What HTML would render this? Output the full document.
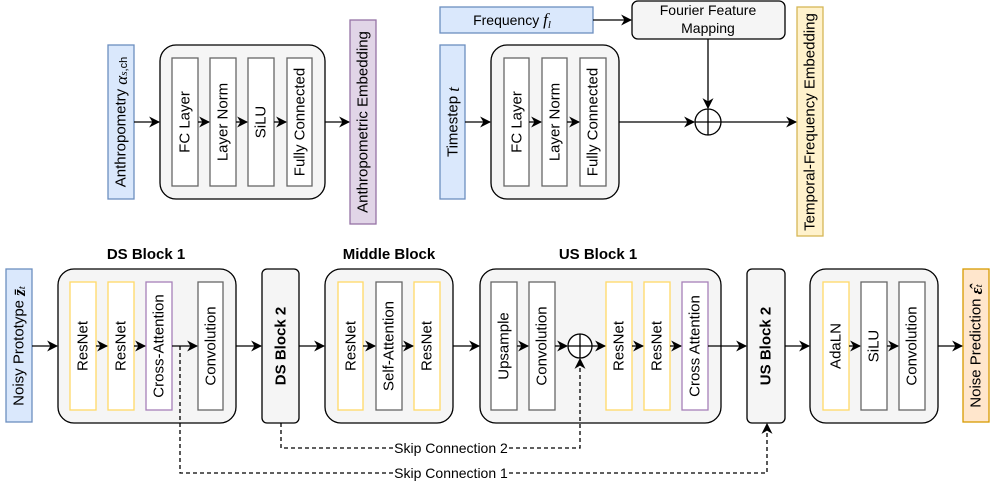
<!DOCTYPE html>
<html><head><meta charset="utf-8"><style>
html,body{margin:0;padding:0;background:#fff;}
svg{display:block;font-family:"Liberation Sans",sans-serif;}
.v{font-size:15px;text-anchor:middle;dominant-baseline:central;}
.b{font-size:15px;font-weight:bold;text-anchor:middle;}
.m{font-family:"Liberation Serif",serif;font-style:italic;}
</style></head><body>
<svg width="996" height="486" viewBox="0 0 996 486" xmlns="http://www.w3.org/2000/svg">
<defs>
<marker id="a" viewBox="0 0 10 10" refX="9" refY="5" markerWidth="11" markerHeight="11" orient="auto" markerUnits="userSpaceOnUse">
<path d="M0,0 L10,5 L0,10 L3,5 Z" fill="#000"/>
</marker>
</defs>
<g fill="none" stroke="#000" stroke-width="1.3">
<rect x="108" y="45" width="26" height="154" fill="#dae8fc" stroke="#6c8ebf"/>
<rect x="160" y="45" width="165" height="154" rx="16" fill="#f5f5f5"/>
<rect x="172" y="58" width="26" height="128" fill="#fff" stroke="#666"/>
<rect x="210" y="58" width="26" height="128" fill="#fff" stroke="#666"/>
<rect x="248" y="58" width="26" height="128" fill="#fff" stroke="#666"/>
<rect x="287" y="58" width="25" height="128" fill="#fff" stroke="#666"/>
<rect x="350" y="20" width="26" height="204" fill="#e1d5e7" stroke="#9673a6"/>
<line x1="134" y1="122" x2="159" y2="122" marker-end="url(#a)"/>
<line x1="198" y1="122" x2="209" y2="122" marker-end="url(#a)"/>
<line x1="236" y1="122" x2="247" y2="122" marker-end="url(#a)"/>
<line x1="274" y1="122" x2="286" y2="122" marker-end="url(#a)"/>
<line x1="325" y1="122" x2="349" y2="122" marker-end="url(#a)"/>
<rect x="440" y="7" width="153" height="26" fill="#dae8fc" stroke="#6c8ebf"/>
<rect x="632" y="1" width="153" height="38" rx="6" fill="#f5f5f5"/>
<rect x="440" y="45" width="25" height="154" fill="#dae8fc" stroke="#6c8ebf"/>
<rect x="491" y="45" width="128" height="154" rx="16" fill="#f5f5f5"/>
<rect x="504" y="58" width="25" height="128" fill="#fff" stroke="#666"/>
<rect x="542" y="58" width="25" height="128" fill="#fff" stroke="#666"/>
<rect x="580" y="58" width="26" height="128" fill="#fff" stroke="#666"/>
<rect x="797" y="7" width="26" height="229" fill="#fff2cc" stroke="#d6b656"/>
<line x1="593" y1="20" x2="631" y2="20" marker-end="url(#a)"/>
<line x1="708" y1="39" x2="708" y2="108" marker-end="url(#a)"/>
<line x1="465" y1="122" x2="490" y2="122" marker-end="url(#a)"/>
<line x1="529" y1="122" x2="541" y2="122" marker-end="url(#a)"/>
<line x1="567" y1="122" x2="579" y2="122" marker-end="url(#a)"/>
<line x1="619" y1="122" x2="694" y2="122" marker-end="url(#a)"/>
<circle cx="708" cy="122" r="13" fill="#fff"/>
<line x1="695" y1="122" x2="721" y2="122"/><line x1="708" y1="109" x2="708" y2="135"/>
<line x1="721" y1="122" x2="796" y2="122" marker-end="url(#a)"/>
<rect x="6" y="269" width="26" height="153" fill="#dae8fc" stroke="#6c8ebf"/>
<rect x="58" y="269" width="178" height="154" rx="16" fill="#f5f5f5"/>
<rect x="70" y="282" width="26" height="128" fill="#fff" stroke="#ffd966"/>
<rect x="108" y="282" width="26" height="128" fill="#fff" stroke="#ffd966"/>
<rect x="146" y="282" width="26" height="128" fill="#fff" stroke="#a680b8"/>
<rect x="198" y="282" width="25" height="128" fill="#fff" stroke="#666"/>
<rect x="262" y="269" width="37" height="154" rx="5" fill="#f5f5f5"/>
<rect x="325" y="269" width="128" height="154" rx="16" fill="#f5f5f5"/>
<rect x="338" y="282" width="25" height="128" fill="#fff" stroke="#ffd966"/>
<rect x="376" y="282" width="26" height="128" fill="#fff" stroke="#666"/>
<rect x="414" y="282" width="26" height="128" fill="#fff" stroke="#ffd966"/>
<rect x="480" y="269" width="241" height="154" rx="16" fill="#f5f5f5"/>
<rect x="491" y="282" width="26" height="128" fill="#fff" stroke="#666"/>
<rect x="529" y="282" width="26" height="128" fill="#fff" stroke="#666"/>
<rect x="606" y="282" width="26" height="128" fill="#fff" stroke="#ffd966"/>
<rect x="644" y="282" width="26" height="128" fill="#fff" stroke="#ffd966"/>
<rect x="682" y="282" width="26" height="128" fill="#fff" stroke="#a680b8"/>
<rect x="747" y="269" width="38" height="154" rx="5" fill="#f5f5f5"/>
<rect x="810" y="269" width="128" height="154" rx="16" fill="#f5f5f5"/>
<rect x="823" y="282" width="26" height="128" fill="#fff" stroke="#ffd966"/>
<rect x="861" y="282" width="26" height="128" fill="#fff" stroke="#666"/>
<rect x="899" y="282" width="26" height="128" fill="#fff" stroke="#666"/>
<rect x="963" y="269" width="26" height="153" fill="#ffe6cc" stroke="#d79b00"/>
<line x1="32" y1="346" x2="57" y2="346" marker-end="url(#a)"/>
<line x1="96" y1="346" x2="107" y2="346" marker-end="url(#a)"/>
<line x1="134" y1="346" x2="145" y2="346" marker-end="url(#a)"/>
<line x1="172" y1="346" x2="197" y2="346" marker-end="url(#a)"/>
<line x1="236" y1="346" x2="261" y2="346" marker-end="url(#a)"/>
<line x1="299" y1="346" x2="324" y2="346" marker-end="url(#a)"/>
<line x1="363" y1="346" x2="375" y2="346" marker-end="url(#a)"/>
<line x1="402" y1="346" x2="413" y2="346" marker-end="url(#a)"/>
<line x1="453" y1="346" x2="479" y2="346" marker-end="url(#a)"/>
<line x1="517" y1="346" x2="528" y2="346" marker-end="url(#a)"/>
<line x1="555" y1="346" x2="567" y2="346" marker-end="url(#a)"/>
<circle cx="580" cy="346" r="12" fill="#fff"/>
<line x1="568" y1="346" x2="592" y2="346"/><line x1="580" y1="334" x2="580" y2="358"/>
<line x1="592" y1="346" x2="605" y2="346" marker-end="url(#a)"/>
<line x1="632" y1="346" x2="643" y2="346" marker-end="url(#a)"/>
<line x1="670" y1="346" x2="681" y2="346" marker-end="url(#a)"/>
<line x1="708" y1="346" x2="746" y2="346" marker-end="url(#a)"/>
<line x1="785" y1="346" x2="809" y2="346" marker-end="url(#a)"/>
<line x1="849" y1="346" x2="860" y2="346" marker-end="url(#a)"/>
<line x1="887" y1="346" x2="898" y2="346" marker-end="url(#a)"/>
<line x1="938" y1="346" x2="962" y2="346" marker-end="url(#a)"/>
<g stroke-dasharray="4,3">
<polyline points="281,423 281,448 394,448"/>
<polyline points="509,448 580,448 580,359" marker-end="url(#a)"/>
<polyline points="180,346 180,473 394,473"/>
<polyline points="509,473 767,473 767,424" marker-end="url(#a)"/>
</g>
</g>
<g fill="#000">
<text class="v" transform="translate(121,122) rotate(-90)">Anthropometry <tspan class="m" font-size="17">α</tspan><tspan class="m" font-size="11" dy="3">s</tspan><tspan font-size="11">,ch</tspan></text>
<text class="v" transform="translate(185,122) rotate(-90)">FC Layer</text>
<text class="v" transform="translate(223,122) rotate(-90)">Layer Norm</text>
<text class="v" transform="translate(261,122) rotate(-90)">SiLU</text>
<text class="v" transform="translate(300,122) rotate(-90)">Fully Connected</text>
<text class="v" transform="translate(363,122) rotate(-90)">Anthropometric Embedding</text>
<text x="512" y="25" font-size="14" text-anchor="middle">Frequency <tspan class="m" font-size="17">f</tspan><tspan class="m" font-size="11" dy="3">l</tspan></text>
<text x="708" y="15" font-size="14" text-anchor="middle">Fourier Feature</text>
<text x="708" y="33" font-size="14" text-anchor="middle">Mapping</text>
<text class="v" transform="translate(453,122) rotate(-90)">Timestep <tspan class="m" font-size="17">t</tspan></text>
<text class="v" transform="translate(517,122) rotate(-90)">FC Layer</text>
<text class="v" transform="translate(555,122) rotate(-90)">Layer Norm</text>
<text class="v" transform="translate(593,122) rotate(-90)">Fully Connected</text>
<text class="v" transform="translate(810,122) rotate(-90)">Temporal-Frequency Embedding</text>
<text class="b" x="146" y="259">DS Block 1</text>
<text class="b" x="389" y="259">Middle Block</text>
<text class="b" x="598" y="259">US Block 1</text>
<text class="v" transform="translate(19,346) rotate(-90)">Noisy Prototype <tspan class="m" font-weight="bold" font-size="17">z̄</tspan><tspan class="m" font-size="11" dy="3">t</tspan></text>
<text class="v" transform="translate(83,346) rotate(-90)">ResNet</text>
<text class="v" transform="translate(121,346) rotate(-90)">ResNet</text>
<text class="v" transform="translate(159,346) rotate(-90)">Cross-Attention</text>
<text class="v" transform="translate(211,346) rotate(-90)">Convolution</text>
<text class="v" font-weight="bold" transform="translate(281,346) rotate(-90)">DS Block 2</text>
<text class="v" transform="translate(351,346) rotate(-90)">ResNet</text>
<text class="v" transform="translate(389,346) rotate(-90)">Self-Attention</text>
<text class="v" transform="translate(427,346) rotate(-90)">ResNet</text>
<text class="v" transform="translate(504,346) rotate(-90)">Upsample</text>
<text class="v" transform="translate(542,346) rotate(-90)">Convolution</text>
<text class="v" transform="translate(619,346) rotate(-90)">ResNet</text>
<text class="v" transform="translate(657,346) rotate(-90)">ResNet</text>
<text class="v" transform="translate(695,346) rotate(-90)">Cross Attention</text>
<text class="v" font-weight="bold" transform="translate(766,346) rotate(-90)">US Block 2</text>
<text class="v" transform="translate(836,346) rotate(-90)">AdaLN</text>
<text class="v" transform="translate(874,346) rotate(-90)">SiLU</text>
<text class="v" transform="translate(912,346) rotate(-90)">Convolution</text>
<text class="v" transform="translate(976,346) rotate(-90)">Noise Prediction <tspan class="m" font-weight="bold" font-size="17">ε̂</tspan><tspan class="m" font-size="11" dy="3">t</tspan></text>
<text x="451" y="453" font-size="14" text-anchor="middle">Skip Connection 2</text>
<text x="451" y="478" font-size="14" text-anchor="middle">Skip Connection 1</text>
</g>
</svg>
</body></html>
